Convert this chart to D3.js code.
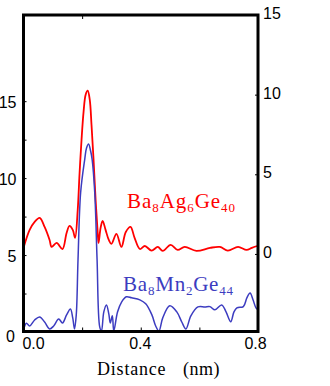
<!DOCTYPE html>
<html><head><meta charset="utf-8">
<script src="https://cdn.jsdelivr.net/npm/d3@7"></script>
<style>body{margin:0;background:#fff}svg{display:block}</style>
</head><body>
<svg id="c" width="330" height="386"></svg>
<script>
// Ba8Ag6Ge40 (red, right axis)
const redX = [0.000,0.021,0.038,0.055,0.072,0.089,0.096,0.113,0.133,0.147,0.157,0.168,0.176,0.185,0.191,0.198,0.205,0.212,0.219,0.226,0.232,0.239,0.246,0.253,0.256,0.263,0.270,0.280,0.291,0.300,0.317,0.334,0.349,0.365,0.379,0.397,0.414,0.437,0.458,0.475,0.502,0.526,0.550,0.590,0.636,0.670,0.697,0.732,0.761,0.779,0.797];
const redY = [0.38,1.51,2.01,2.26,1.70,0.88,0.44,0.69,0.31,1.32,1.76,1.51,1.01,2.77,4.97,7.17,8.93,10.0,10.25,9.69,8.11,5.91,3.40,1.38,0.69,1.64,2.08,1.51,0.88,0.63,1.26,0.44,1.38,1.70,1.01,0.31,0.50,0.21,0.44,0.19,0.57,0.25,0.44,0.19,0.38,0.44,0.21,0.44,0.25,0.38,0.50];
// Ba8Mn2Ge44 (blue, left axis)
const blueX = [0.000,0.010,0.021,0.038,0.055,0.072,0.089,0.103,0.120,0.133,0.147,0.160,0.168,0.174,0.180,0.186,0.195,0.209,0.215,0.222,0.229,0.234,0.243,0.251,0.260,0.266,0.274,0.283,0.291,0.296,0.303,0.308,0.321,0.335,0.351,0.369,0.397,0.417,0.438,0.451,0.462,0.475,0.499,0.523,0.540,0.554,0.571,0.595,0.619,0.636,0.653,0.676,0.691,0.707,0.718,0.728,0.750,0.762,0.773,0.783,0.793,0.800];
const blueY = [0.13,0.57,0.39,0.78,0.98,0.65,0.20,0.39,0.85,0.59,1.11,1.50,0.92,0.20,1.11,4.71,9.08,11.24,11.96,12.22,11.76,11.24,9.08,4.71,0.33,0.07,1.31,1.76,1.18,0.59,1.05,0.07,1.31,1.96,2.29,2.22,2.09,1.83,1.11,0.39,0.07,0.92,1.70,1.31,0.65,0.20,1.05,1.63,1.63,1.65,1.44,1.76,1.31,0.67,1.31,1.57,1.65,2.22,2.53,2.09,1.57,1.44];
const xTicks = [0, 0.2, 0.4, 0.6, 0.8];
const xTickLabels = ["0.0", "", "0.4", "", "0.8"];
const leftTicks = [0, 5, 10, 15];
const leftMinor = [2.5, 7.5, 12.5];
const rightTicks = [0, 5, 10, 15];

const svg = d3.select("#c");
const L = 23.5, R = 258, T = 15, B = 331.5;
const x = d3.scaleLinear().domain([0, 0.8]).range([L, R]);
const yL = d3.scaleLinear().domain([0, 20.6]).range([332, T]);
const yR = d3.scaleLinear().domain([-4.9, 15]).range([332, T]);

const line = (ys) => d3.line().curve(d3.curveCatmullRom.alpha(0.5)).x(d => x(d[0])).y(d => ys(d[1]));
svg.append("path").datum(redX.map((v,i)=>[v,redY[i]]))
  .attr("d", line(yR)).attr("fill","none").attr("stroke","#ff0000").attr("stroke-width",1.8).attr("stroke-linejoin","round");
svg.append("path").datum(blueX.map((v,i)=>[v,blueY[i]]))
  .attr("d", line(yL)).attr("fill","none").attr("stroke","#3c3cc0").attr("stroke-width",1.5).attr("stroke-linejoin","round");

// frame
svg.append("rect").attr("x",L).attr("y",T).attr("width",R-L).attr("height",B-T)
  .attr("fill","none").attr("stroke","#000").attr("stroke-width",3);

const font = "'Liberation Sans', Arial, sans-serif";
// bottom axis
const gb = svg.append("g").attr("transform",`translate(0,${B})`)
  .call(d3.axisBottom(x).tickValues(xTicks).tickSize(-4).tickFormat((d,i)=>xTickLabels[i]));
gb.select(".domain").remove();
gb.selectAll("line").attr("stroke","#000").attr("stroke-width",1);
gb.selectAll("text").attr("font-family",font).attr("font-size",16).attr("fill","#000")
  .attr("y",17.5).attr("dy","0").attr("dx",(d,i)=> i===0 ? 9.5 : (i===4 ? -3 : -1));
// top axis ticks
const gt = svg.append("g").attr("transform",`translate(0,${T})`)
  .call(d3.axisTop(x).tickValues([0.2]).tickSize(-4).tickFormat(""));
gt.select(".domain").remove();
gt.selectAll("line").attr("stroke","#000");
// left axis
const gl = svg.append("g").attr("transform",`translate(${L},0)`)
  .call(d3.axisLeft(yL).tickValues(leftTicks.concat(leftMinor)).tickSize(-3).tickPadding(5)
    .tickFormat(d=> leftTicks.includes(d) ? d : ""));
gl.select(".domain").remove();
gl.selectAll("line").attr("stroke","#000");
gl.selectAll("text").attr("font-family",font).attr("font-size",16).attr("fill","#000")
  .attr("x",(d)=> d===0 ? -8.5 : -7).attr("dy",(d)=> d===0 ? "0.6em" : "0.38em");
// right axis
const gr = svg.append("g").attr("transform",`translate(${R},0)`)
  .call(d3.axisRight(yR).tickValues(rightTicks).tickSize(-3).tickFormat(d=>d));
gr.select(".domain").remove();
gr.selectAll("line").attr("stroke","#000");
gr.selectAll("text").attr("font-family",font).attr("font-size",16).attr("fill","#000")
  .attr("x",5).attr("dy","0.22em");

// x label
const serif = "'Liberation Serif', 'Times New Roman', serif";
svg.append("text").attr("x",97).attr("y",375).attr("font-family",serif).attr("font-size",18)
  .attr("letter-spacing",0.8).text("Distance");
svg.append("text").attr("x",183).attr("y",375).attr("font-family",serif).attr("font-size",18)
  .attr("letter-spacing",0.5).text("(nm)");

function formula(xp, yp, parts, color, len){
  const t = svg.append("text").attr("x",xp).attr("y",yp).attr("font-family",serif)
    .attr("font-size",21).attr("fill",color).attr("textLength",len).attr("lengthAdjust","spacing");
  parts.forEach(p=>{
    if(p[1]) {
      t.append("tspan").attr("font-size",13).attr("dy",4).text(p[0]);
    } else {
      t.append("tspan").attr("dy",-4).text(p[0]);
    }
  });
  t.select("tspan").attr("dy",0);
}
formula(127,208,[["Ba",0],["8",1],["Ag",0],["6",1],["Ge",0],["40",1]],"#ff0000",108);
formula(123,290.5,[["Ba",0],["8",1],["Mn",0],["2",1],["Ge",0],["44",1]],"#3c3cc0",110);
</script>
</body></html>
